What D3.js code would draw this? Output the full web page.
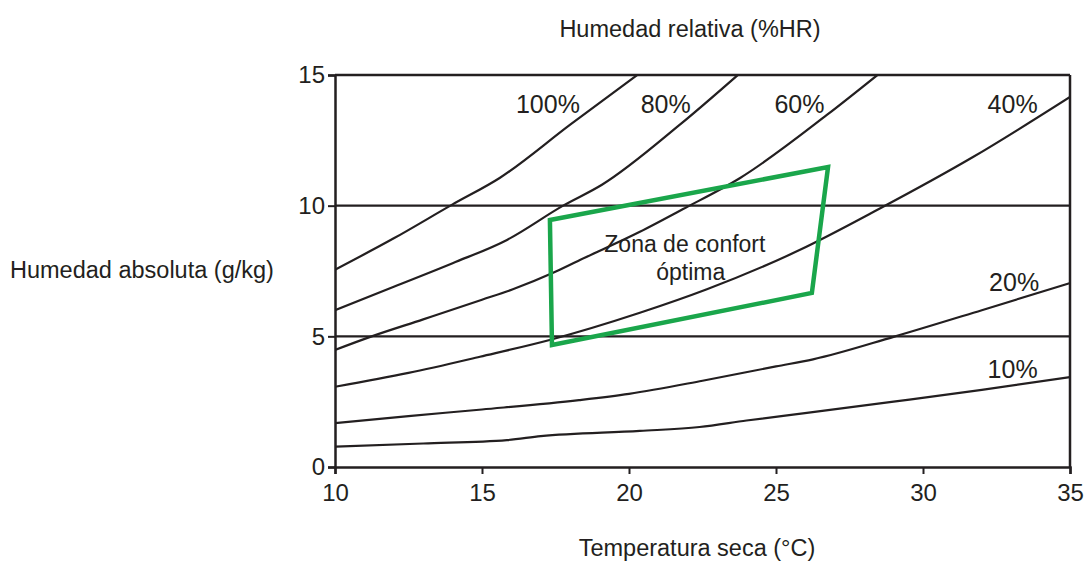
<!DOCTYPE html>
<html>
<head>
<meta charset="utf-8">
<script src="https://cdn.jsdelivr.net/npm/d3@7"></script>
<style>
  body { margin: 0; background: #fff; }
  svg text { font-family: "Liberation Sans", Arial, sans-serif; fill: #231f20; }
</style>
</head>
<body>
<svg width="1085" height="563"></svg>
<script>
// humidity curves, [temp °C, g/kg]
const hr100 = [[10,7.55],[12,8.75],[14,10.05],[15.6,11.06],[18,13.1],[20.4,15.1]];
const hr80 = [[10,6.0],[12,6.9],[14,7.8],[15.85,8.69],[17.76,10.0],[19.08,10.8],[21.73,13.1],[23.7,15.0]];
const hr60 = [[10,4.48],[11.2,4.98],[13,5.65],[15,6.4],[16.05,6.8],[17.4,7.42],[18.33,7.92],[20.37,9.0],[21.84,9.87],[23.78,11.06],[26.73,13.47],[28.45,15.0]];
const hr40 = [[10,3.07],[12.5,3.6],[14.93,4.22],[17.3,4.86],[20.37,5.9],[22.65,6.8],[25.8,8.3],[28.5,9.87],[31.7,11.86],[35,14.16]];
const hr20 = [[10,1.68],[12.5,1.95],[15,2.2],[18.3,2.56],[20,2.8],[22.5,3.3],[25,3.85],[26.26,4.12],[29,4.98],[32,6.0],[35,7.04]];
const hr10 = [[10,0.78],[13,0.9],[15.85,1.03],[17,1.18],[20.37,1.38],[22.4,1.53],[24,1.78],[26.05,2.07],[29,2.5],[32,2.95],[35,3.44]];

const curves = [hr100, hr80, hr60, hr40, hr20, hr10];
const curveLabels = ["100%", "80%", "60%", "40%", "20%", "10%"];
const labelAnchors = [[18.33,13.55],[22.1,13.55],[26.65,13.55],[33.9,13.55],[33.95,6.75],[33.9,3.4]];

const comfortZone = [[17.31,9.45],[26.77,11.48],[26.22,6.66],[17.38,4.67]];

const xTicks = [10, 15, 20, 25, 30, 35];
const yTicks = [0, 5, 10, 15];
const gridValues = [5, 10];

const svg = d3.select("svg");
const margin = {top: 75, right: 15, left: 335, bottom: 96};
const width = +svg.attr("width");
const height = +svg.attr("height");
const innerWidth = width - margin.left - margin.right;
const innerHeight = height - margin.top - margin.bottom;

const xScale = d3.scaleLinear().domain([10, 35]).range([0, innerWidth]);
const yScale = d3.scaleLinear().domain([0, 15]).range([innerHeight, 0]);

const g = svg.append("g")
  .attr("transform", `translate(${margin.left}, ${margin.top})`);

g.append("clipPath").attr("id", "plot")
  .append("rect").attr("width", innerWidth).attr("height", innerHeight);

// grid lines at 5 and 10
g.selectAll(".grid").data(gridValues)
  .enter().append("line")
    .attr("x1", 0).attr("x2", innerWidth)
    .attr("y1", d => yScale(d)).attr("y2", d => yScale(d))
    .attr("stroke", "#231f20").attr("stroke-width", 2.2);

// frame top and right
g.append("line").attr("x1", 0).attr("x2", innerWidth).attr("y1", 0).attr("y2", 0)
  .attr("stroke", "#231f20").attr("stroke-width", 2.5);
g.append("line").attr("x1", innerWidth).attr("x2", innerWidth).attr("y1", 0).attr("y2", innerHeight)
  .attr("stroke", "#231f20").attr("stroke-width", 2.5);

const line = d3.line()
  .x(d => xScale(d[0]))
  .y(d => yScale(d[1]))
  .curve(d3.curveMonotoneX);

g.append("g").attr("clip-path", "url(#plot)")
  .selectAll("path").data(curves)
  .enter().append("path")
    .attr("d", line)
    .attr("fill", "none")
    .attr("stroke", "#231f20")
    .attr("stroke-width", 2.2);

g.selectAll(".hr-label").data(curveLabels)
  .enter().append("text")
    .attr("x", (d, i) => xScale(labelAnchors[i][0]))
    .attr("y", (d, i) => yScale(labelAnchors[i][1]))
    .attr("text-anchor", "end")
    .attr("font-size", 25)
    .text(d => d);

// comfort zone
g.append("path")
  .attr("d", d3.line().x(d => xScale(d[0])).y(d => yScale(d[1]))(comfortZone) + "Z")
  .attr("fill", "none")
  .attr("stroke", "#1aa64b")
  .attr("stroke-width", 4.5)
  .attr("stroke-linejoin", "miter");

g.append("text")
  .attr("x", xScale(21.9)).attr("y", yScale(8.22))
  .attr("text-anchor", "middle").attr("font-size", 23)
  .text("Zona de confort");
g.append("text")
  .attr("x", xScale(22.1)).attr("y", yScale(7.15))
  .attr("text-anchor", "middle").attr("font-size", 23)
  .text("óptima");

// axes
const yAxis = g.append("g")
  .call(d3.axisLeft(yScale).tickValues(yTicks).tickSize(7).tickPadding(3));
const xAxis = g.append("g")
  .attr("transform", `translate(0, ${innerHeight})`)
  .call(d3.axisBottom(xScale).tickValues(xTicks).tickSize(7).tickPadding(10));

[xAxis, yAxis].forEach(ax => {
  ax.select(".domain").attr("stroke", "#231f20").attr("stroke-width", 2.5);
  ax.selectAll(".tick line").attr("stroke", "#231f20").attr("stroke-width", 2);
  ax.selectAll(".tick text")
    .attr("font-family", "Liberation Sans, Arial, sans-serif")
    .attr("font-size", 24)
    .attr("fill", "#231f20");
});

// titles
svg.append("text")
  .attr("x", 690).attr("y", 37)
  .attr("text-anchor", "middle").attr("font-size", 23.5)
  .text("Humedad relativa (%HR)");
svg.append("text")
  .attr("x", 10).attr("y", 278)
  .attr("font-size", 23.5)
  .text("Humedad absoluta (g/kg)");
svg.append("text")
  .attr("x", 697).attr("y", 556)
  .attr("text-anchor", "middle").attr("font-size", 23.5)
  .text("Temperatura seca (°C)");
</script>
</body>
</html>
